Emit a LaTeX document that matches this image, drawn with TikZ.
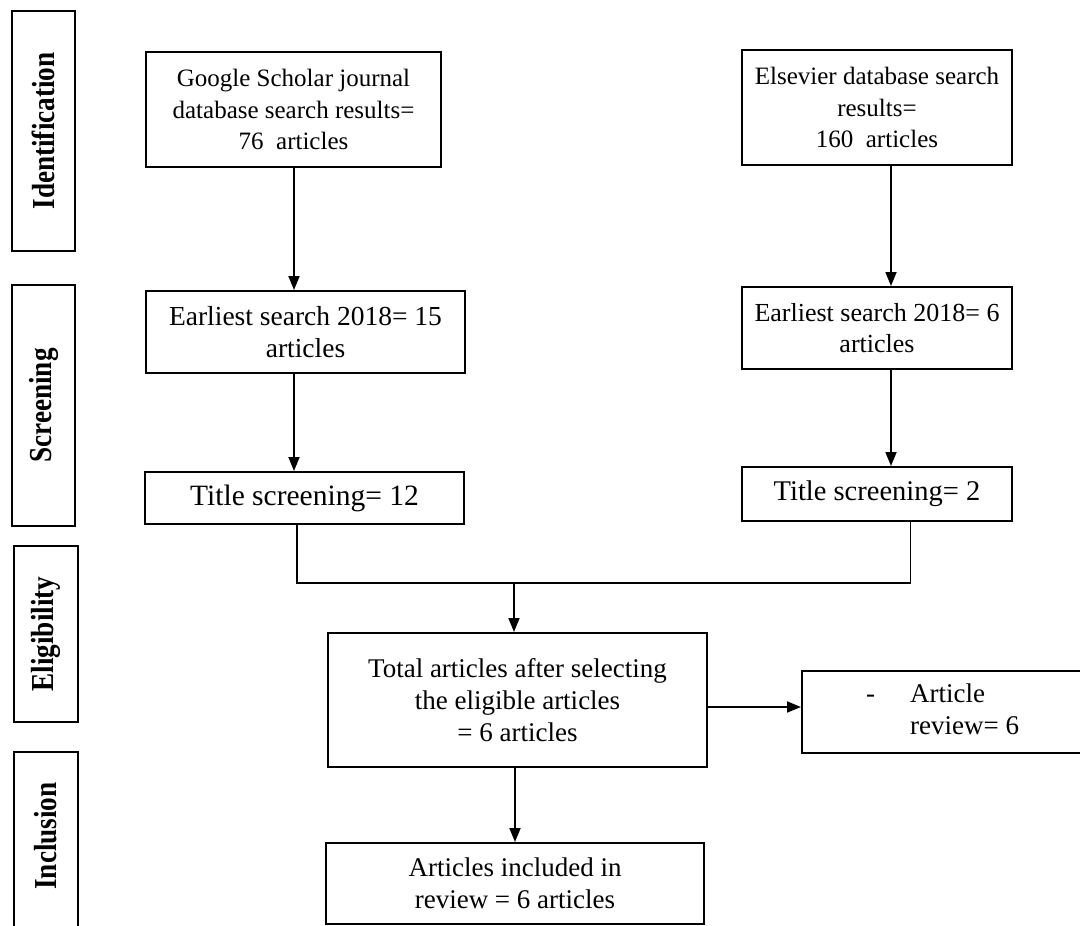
\documentclass[tikz,border=0pt]{standalone}
\usepackage{fontspec}
\setmainfont{Liberation Serif}
\newfontfamily\sidefont[FakeStretch=0.85]{Liberation Serif}
\usetikzlibrary{arrows.meta}
\begin{document}
\begin{tikzpicture}[x=1pt,y=-1pt,
  box/.style={draw, line width=2pt, align=center, inner sep=0pt, font=\fontsize{27}{32}\selectfont},
  toptext/.style={font=\fontsize{25}{31.5}\selectfont},
  side/.style={draw, line width=2.2pt, inner sep=0pt, rotate=90, font=\sidefont\bfseries\fontsize{32}{32}\selectfont},
  conn/.style={line width=1.8pt},
  arr/.style={conn, -{Triangle[length=14pt,width=11pt]}}]
\useasboundingbox (0,0) rectangle (1080,926);
% phase labels
\node[side, minimum width=240pt, minimum height=63pt] (idlab) at (43.5,131) {Identification};
\node[side, minimum width=241pt, minimum height=63pt] (scrlab) at (43.5,405.5) {Screening};
\node[side, minimum width=176pt, minimum height=64pt] (elilab) at (46,634) {Eligibility};
\node[side, minimum width=183pt, minimum height=64pt] (inclab) at (46,843.5) {};
\node[side, draw=none] (inctxt) at (46,836) {Inclusion};
% flow boxes
\node[box, toptext, minimum width=295pt, minimum height=115pt] (g1) at (293.5,109.5) {Google Scholar journal\\database search results=\\76\ \ articles};
\node[box, toptext, minimum width=270pt, minimum height=115pt] (e1) at (877,107.5) {Elsevier database search\\results=\\160\ \ articles};
\node[box, font=\fontsize{27.5}{31.5}\selectfont, minimum width=319pt, minimum height=82pt] (s1) at (305.5,332) {Earliest search 2018= 15\\articles};
\node[box, font=\fontsize{26}{31.5}\selectfont, minimum width=270pt, minimum height=82pt] (s2) at (877,328) {Earliest search 2018= 6\\articles};
\node[box, font=\fontsize{29.5}{31.5}\selectfont, minimum width=319pt, minimum height=52pt] (t1) at (304.5,498) {Title screening= 12};
\node[box, font=\fontsize{28.5}{31.5}\selectfont, minimum width=270pt, minimum height=54pt] (t2) at (877,494) {Title screening= 2};
\node[box, minimum width=379pt, minimum height=134pt] (tot) at (517.5,700) {Total articles after selecting\\the eligible articles\\= 6 articles};
\node[box, minimum width=283pt, minimum height=82pt] (rev) at (943.5,712) {};
\node[anchor=west, inner sep=0pt, font=\fontsize{27}{32}\selectfont] (revtxt) at (866,712) {\begin{tabular}{@{}l@{\hspace{35pt}}l@{}}-&Article\\&review= 6\end{tabular}};
\node[box, minimum width=378pt, minimum height=81pt] (inc) at (515,883.5) {Articles included in\\review = 6 articles};
% connectors
\draw[arr] ([xshift=0.5pt]g1.south) -- ([xshift=0.5pt]g1.south |- s1.north);
\draw[arr] ([xshift=14pt]e1.south) -- ([xshift=14pt]e1.south |- s2.north);
\draw[arr] ([xshift=-11.5pt]s1.south) -- ([xshift=-11.5pt]s1.south |- t1.north);
\draw[arr] ([xshift=14pt]s2.south) -- ([xshift=14pt]s2.south |- t2.north);
\coordinate (m) at (514,583);
\draw[conn] ([xshift=-7.5pt]t1.south) |- (m) -| ([xshift=33.5pt]t2.south);
\draw[arr] (m) -- (m |- tot.north);
\draw[arr] ([yshift=-7pt]tot.east) -- ([yshift=-7pt]tot.east -| rev.west);
\draw[arr] (inc.north |- tot.south) -- (inc.north);
\end{tikzpicture}
\end{document}
